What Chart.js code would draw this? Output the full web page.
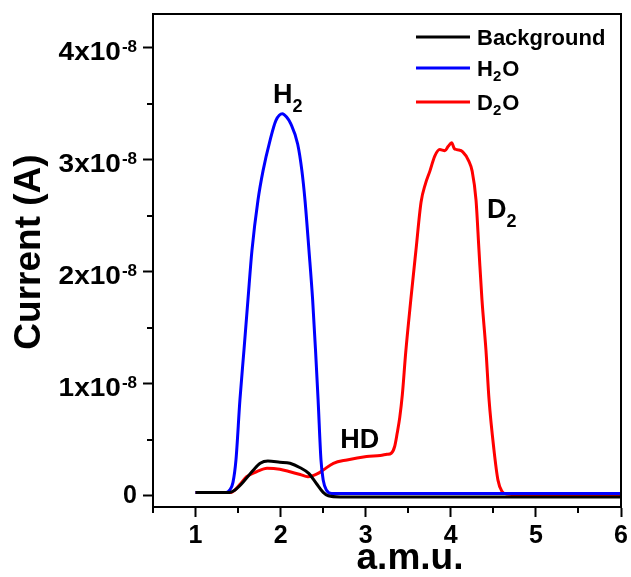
<!DOCTYPE html>
<html>
<head>
<meta charset="utf-8">
<script src="https://cdn.jsdelivr.net/npm/chart.js@4.4.1/dist/chart.umd.min.js"></script>
<style>
  html, body { margin: 0; padding: 0; background: #ffffff; }
  canvas { display: block; }
</style>
</head>
<body>
<canvas id="chart" width="631" height="577"></canvas>
<script>
// Mass spectrometer traces: current (in units of 1e-8 A) versus mass (a.m.u.)
const seriesNames = ['Background', 'H2O', 'D2O'];
const seriesColors = ['#000000', '#0000ff', '#ff0000'];

const backgroundMass    = [1.0, 1.40, 1.46, 1.52, 1.58, 1.68, 1.76, 1.85, 1.99, 2.11, 2.23, 2.33, 2.42, 2.50, 2.56, 2.70, 3.5, 4.5, 5.5, 6.0];
const backgroundCurrent = [0.03, 0.03, 0.05, 0.09, 0.14, 0.23, 0.29, 0.31, 0.30, 0.29, 0.25, 0.20, 0.11, 0.03, 0.00, -0.01, -0.01, -0.01, -0.01, -0.01];

const h2oMass    = [1.0, 1.36, 1.40, 1.44, 1.475, 1.522, 1.569, 1.616, 1.663, 1.734, 1.793, 1.875, 1.945, 2.02, 2.07, 2.12, 2.20, 2.25, 2.286, 2.333, 2.376, 2.41, 2.44, 2.474, 2.50, 2.54, 2.60, 3.5, 4.5, 5.5, 6.0];
const h2oCurrent = [0.03, 0.03, 0.05, 0.12, 0.32, 0.86, 1.30, 1.75, 2.19, 2.64, 2.90, 3.17, 3.35, 3.41, 3.38, 3.32, 3.14, 2.90, 2.64, 2.19, 1.75, 1.30, 0.86, 0.32, 0.14, 0.05, 0.02, 0.02, 0.02, 0.02, 0.02];

const d2oMass    = [1.0, 1.42, 1.46, 1.52, 1.60, 1.72, 1.84, 1.99, 2.11, 2.23, 2.32, 2.38, 2.44, 2.50, 2.62, 2.78, 3.01, 3.17, 3.25, 3.30, 3.34, 3.37, 3.40, 3.43, 3.47, 3.53, 3.59, 3.65, 3.70, 3.755, 3.81, 3.87, 3.93, 3.97, 4.01, 4.04, 4.07, 4.14, 4.21, 4.25, 4.296, 4.331, 4.366, 4.413, 4.449, 4.507, 4.554, 4.60, 4.66, 4.80, 5.5, 6.0];
const d2oCurrent = [0.03, 0.03, 0.05, 0.10, 0.17, 0.215, 0.245, 0.237, 0.215, 0.19, 0.17, 0.18, 0.20, 0.23, 0.29, 0.32, 0.35, 0.36, 0.37, 0.38, 0.44, 0.56, 0.70, 0.90, 1.28, 1.75, 2.19, 2.62, 2.78, 2.90, 3.03, 3.09, 3.08, 3.12, 3.15, 3.10, 3.09, 3.07, 2.99, 2.90, 2.64, 2.19, 1.75, 1.30, 0.86, 0.41, 0.14, 0.04, 0.015, 0.01, 0.01, 0.01];

// Axis ticks
const massTickValues = [1, 2, 3, 4, 5, 6];
const massMinorTicks = [0.5, 1.5, 2.5, 3.5, 4.5, 5.5];
const currentTickValues = [0, 1, 2, 3, 4];
const currentMinorTicks = [0.5, 1.5, 2.5, 3.5];
const currentExponent = '-8';

// Peak labels (species, mass, current where the label sits)
const peakLabels = ['H2', 'HD', 'D2'];
const peakLabelMass = [1.91, 2.70, 4.425];
const peakLabelCurrent = [3.51, 0.43, 2.48];

const FONT = '"Liberation Sans", Arial, Helvetica, sans-serif';

function zip(xs, ys) { return xs.map((x, i) => ({ x: x, y: ys[i] })); }

// Draw a chemical formula with digits as subscripts, starting at (x, y) baseline
function drawFormula(ctx, text, x, y, size, subSize, subDrop) {
  let cx = x;
  for (const ch of text) {
    const isDigit = ch >= '0' && ch <= '9';
    ctx.font = 'bold ' + (isDigit ? subSize : size) + 'px ' + FONT;
    ctx.fillText(ch, cx, isDigit ? y + subDrop : y);
    cx += ctx.measureText(ch).width + (isDigit ? 1 : 0);
  }
}

const decorations = {
  id: 'decorations',
  afterDraw(chart) {
    const ctx = chart.ctx;
    const area = chart.chartArea;
    const xs = chart.scales.x;
    const ys = chart.scales.y;
    ctx.save();
    ctx.fillStyle = '#000';
    ctx.strokeStyle = '#000';
    ctx.lineWidth = 2;

    // frame top and right
    ctx.beginPath();
    ctx.moveTo(area.left, area.top);
    ctx.lineTo(area.right, area.top);
    ctx.lineTo(area.right, area.bottom);
    ctx.stroke();

    // minor tick marks
    ctx.beginPath();
    massMinorTicks.forEach(v => {
      const px = Math.round(xs.getPixelForValue(v));
      ctx.moveTo(px, area.bottom);
      ctx.lineTo(px, area.bottom + 6);
    });
    currentMinorTicks.forEach(v => {
      const py = Math.round(ys.getPixelForValue(v));
      ctx.moveTo(area.left, py);
      ctx.lineTo(area.left - 6, py);
    });
    ctx.stroke();

    // x tick labels
    ctx.font = 'bold 25px ' + FONT;
    ctx.textAlign = 'center';
    ctx.textBaseline = 'middle';
    massTickValues.forEach(v => {
      ctx.fillText(String(v), xs.getPixelForValue(v), area.bottom + 29);
    });

    // y tick labels with power-of-ten superscript
    ctx.textAlign = 'right';
    const labelRight = area.left - 16;
    currentTickValues.forEach(v => {
      const py = ys.getPixelForValue(v);
      if (v === 0) {
        ctx.font = 'bold 25px ' + FONT;
        ctx.textBaseline = 'middle';
        ctx.fillText('0', labelRight, py);
        return;
      }
      ctx.font = 'bold 17px ' + FONT;
      ctx.textBaseline = 'middle';
      ctx.fillText(currentExponent, labelRight, py);
      const supW = ctx.measureText(currentExponent).width;
      ctx.save();
      ctx.translate(labelRight - supW - 1, py + 5);
      ctx.scale(1.12, 1);
      ctx.font = 'bold 25px ' + FONT;
      ctx.fillText(v + 'x10', 0, 0);
      ctx.restore();
    });

    // axis titles
    ctx.font = 'bold 37px ' + FONT;
    ctx.textAlign = 'center';
    ctx.textBaseline = 'alphabetic';
    ctx.fillText('a.m.u.', 410, 569);
    ctx.save();
    ctx.translate(40, 252);
    ctx.rotate(-Math.PI / 2);
    ctx.fillText('Current (A)', 0, 0);
    ctx.restore();

    // peak labels
    ctx.textAlign = 'left';
    peakLabels.forEach((t, i) => {
      const px = xs.getPixelForValue(peakLabelMass[i]);
      const py = ys.getPixelForValue(peakLabelCurrent[i]);
      drawFormula(ctx, t, px, py, 27, 18, 9);
    });

    // legend
    const rowY = [37, 68, 102];
    seriesNames.forEach((name, i) => {
      ctx.strokeStyle = seriesColors[i];
      ctx.lineWidth = 3;
      ctx.beginPath();
      ctx.moveTo(416, rowY[i]);
      ctx.lineTo(470, rowY[i]);
      ctx.stroke();
      ctx.fillStyle = '#000';
      drawFormula(ctx, name, 477, rowY[i] + 8, 22, 15, 5);
    });

    ctx.restore();
  }
};

const datasets = [
  { label: seriesNames[0], data: zip(backgroundMass, backgroundCurrent), borderColor: seriesColors[0] },
  { label: seriesNames[1], data: zip(h2oMass, h2oCurrent), borderColor: seriesColors[1] },
  { label: seriesNames[2], data: zip(d2oMass, d2oCurrent), borderColor: seriesColors[2] }
];

const axisGrid = {
  drawOnChartArea: false,
  drawTicks: true,
  tickLength: 10,
  tickWidth: 2,
  tickColor: '#000',
  color: '#000'
};

new Chart(document.getElementById('chart'), {
  type: 'line',
  data: { datasets: datasets },
  options: {
    responsive: false,
    animation: false,
    layout: { padding: { left: 0, top: 14, right: 10, bottom: 0 } },
    plugins: { legend: { display: false }, tooltip: { enabled: false } },
    elements: {
      point: { radius: 0 },
      line: { borderWidth: 3, cubicInterpolationMode: 'monotone', fill: false }
    },
    scales: {
      x: {
        type: 'linear', min: 0.5, max: 6,
        ticks: { stepSize: 1, includeBounds: false, display: false },
        grid: axisGrid,
        border: { display: true, color: '#000', width: 2 },
        afterFit(scale) { scale.height = 70; }
      },
      y: {
        type: 'linear', min: -0.1, max: 4.3,
        ticks: { stepSize: 1, includeBounds: false, display: false },
        grid: axisGrid,
        border: { display: true, color: '#000', width: 2 },
        afterFit(scale) { scale.width = 153; }
      }
    }
  },
  plugins: [decorations]
});
</script>
</body>
</html>
